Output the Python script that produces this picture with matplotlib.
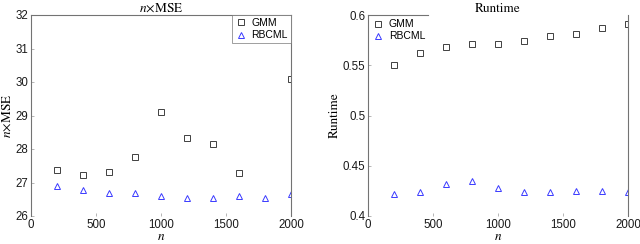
import matplotlib
matplotlib.use('Agg')
import matplotlib.pyplot as plt

plt.rcParams['font.family'] = ['Liberation Sans', 'DejaVu Sans']
plt.rcParams['mathtext.fontset'] = 'stix'

n_values = [200, 400, 600, 800, 1000, 1200, 1400, 1600, 1800, 2000]

# n x MSE (GMM has no point at n=1800)
mse_gmm_n = [200, 400, 600, 800, 1000, 1200, 1400, 1600, 2000]
mse_gmm = [27.37, 27.21, 27.31, 27.76, 29.11, 28.33, 28.15, 27.29, 30.09]
mse_rbcml = [26.91, 26.78, 26.69, 26.68, 26.61, 26.54, 26.54, 26.61, 26.54, 26.67]

# runtime
rt_gmm = [0.5498, 0.562, 0.568, 0.571, 0.571, 0.574, 0.579, 0.581, 0.587, 0.591]
rt_rbcml = [0.4215, 0.424, 0.432, 0.435, 0.428, 0.424, 0.424, 0.425, 0.425, 0.424]

serif = {'family': 'STIXGeneral', 'size': 9.5}

fig = plt.figure(figsize=(6.4, 2.44), dpi=100)
ax1 = fig.add_axes([31 / 640, 28 / 244, 260 / 640, 201 / 244])
ax2 = fig.add_axes([368 / 640, 28 / 244, 260 / 640, 201 / 244])


def style_axes(ax):
    for side in ['left', 'top', 'right']:
        ax.spines[side].set_color('0.45')
        ax.spines[side].set_linewidth(0.8)
    ax.spines['bottom'].set_visible(False)
    ax.tick_params(direction='in', length=2, width=0.5, color='0.6',
                   labelsize=8.3, pad=2, labelcolor='0.1')
    ax.set_xlim(0, 2000)
    ax.set_xticks([0, 500, 1000, 1500, 2000])
    ax.set_xlabel('$n$', fontdict=serif, labelpad=0)


# left panel
ax1.plot(mse_gmm_n, mse_gmm, linestyle='none', marker='s', markersize=4,
         markerfacecolor='none', markeredgecolor='0.25', markeredgewidth=0.7,
         label='GMM')
ax1.plot(n_values, mse_rbcml, linestyle='none', marker='^', markersize=5,
         markerfacecolor='none', markeredgecolor='#3a3aff', markeredgewidth=0.7,
         label='RBCML')
style_axes(ax1)
ax1.set_ylim(26, 32)
ax1.set_yticks([26, 27, 28, 29, 30, 31, 32])
ax1.set_title(r'$n\!\times\!$MSE', fontdict=serif, pad=2)
ax1.set_ylabel(r'$n\!\times\!$MSE', fontdict=serif, labelpad=1)
leg1 = ax1.legend(loc='upper right', fontsize=7.5, frameon=True, fancybox=False,
                  borderaxespad=0, handletextpad=0.4, borderpad=0.3,
                  handlelength=1.2, labelspacing=0.2)
leg1.get_frame().set_edgecolor('0.45')
leg1.get_frame().set_linewidth(0.6)

# right panel
ax2.plot(n_values, rt_gmm, linestyle='none', marker='s', markersize=4,
         markerfacecolor='none', markeredgecolor='0.25', markeredgewidth=0.7,
         label='GMM')
ax2.plot(n_values, rt_rbcml, linestyle='none', marker='^', markersize=5,
         markerfacecolor='none', markeredgecolor='#3a3aff', markeredgewidth=0.7,
         label='RBCML')
style_axes(ax2)
ax2.spines['top'].set_bounds(0, 460)
ax2.set_ylim(0.4, 0.6)
ax2.set_yticks([0.4, 0.45, 0.5, 0.55, 0.6])
ax2.set_yticklabels(['0.4', '0.45', '0.5', '0.55', '0.6'])
ax2.set_title('Runtime', fontdict=serif, pad=2)
ax2.set_ylabel('Runtime', fontdict=serif, labelpad=1)
ax2.legend(loc='upper left', fontsize=7.5, frameon=False,
           borderaxespad=0.1, handletextpad=0.4, borderpad=0.3,
           handlelength=1.2, labelspacing=0.2)

fig.savefig('out.png', dpi=100)
